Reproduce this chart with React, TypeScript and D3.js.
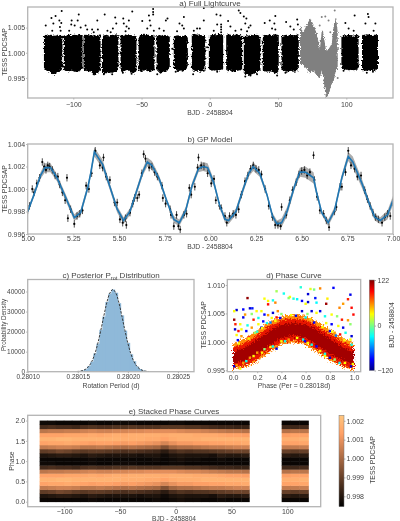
import React, { useEffect, useRef } from "react";
import * as d3 from "d3";

const FONT = "'Liberation Sans', Arial, sans-serif";
const TXT = "#444";
const SPINE = "#b4b4b4";

// ---- a) Full lightcurve: dense observing sectors as envelopes (units of 1e-4 around 1)
const sectorSpans = [[-121.5,-107.9],[-106.9,-93.2],[-92.5,-80],[-79,-66.9],[-65.4,-53.7],[-52.2,-40.5],[-39,-29.3],[-26.4,-16.1],[-13.2,-3.2],[-0.7,9.8],[12,23.7],[24.9,37.1],[38.8,50.5],[52.5,65.2],[96.4,109],[111.5,123.2]];
const sectorHi = [[33,37,35,36,34,36,35,33],[35,34,37,35,36,35,36,34],[35,36,35,37,35,34,36,33],[33,35,36,34,36,35,37,34],[35,36,34,37,36,35,34,33],[33,35,36,35,37,34,36,33],[34,36,35,34,36,35,33,32],[32,34,35,34,33,35,34,30],[36,38,37,36,37,35,36,33],[33,35,36,35,37,38,36,33],[35,37,36,35,36,37,35,33],[33,35,34,36,35,36,35,33],[34,36,35,36,35,37,36,34],[33,35,36,34,36,35,36,34],[33,35,34,36,35,34,36,33],[35,36,37,36,35,36,36,34]];
const sectorLo = [[-30,-36,-38,-42,-44,-40,-38,-32],[-34,-38,-37,-36,-38,-38,-36,-32],[-34,-36,-37,-38,-42,-44,-40,-33],[-38,-42,-40,-38,-41,-39,-36,-34],[-36,-40,-36,-34,-38,-40,-42,-36],[-34,-38,-36,-35,-37,-36,-38,-33],[-34,-38,-42,-40,-38,-36,-34,-30],[-30,-34,-37,-36,-35,-36,-34,-28],[-32,-35,-37,-36,-38,-37,-36,-34],[-33,-34,-36,-35,-36,-35,-34,-32],[-34,-37,-36,-38,-37,-36,-35,-33],[-38,-44,-46,-44,-42,-40,-38,-34],[-35,-38,-37,-38,-37,-40,-42,-36],[-34,-36,-38,-37,-36,-38,-37,-33],[-30,-33,-34,-35,-34,-35,-34,-30],[-34,-38,-36,-35,-37,-36,-35,-32]];
const grayT = [66.1,68.3,71,73.4,75.6,78.3,80.7,82,82.9,85.1,86.6,89.3,91,92.4,93.7];
const grayHi = [54,41,54,68,58,38,8,44,44,5,5,18,58,71,41];
const grayLo = [-22,-25,-32,-42,-35,-45,-52,-35,-45,-91,-85,-62,-52,-35,-32];
const blackOutliers = [[-120.2,54],[-116,69],[-114.6,58],[-115.4,44],[-113,73],[-108.5,83],[-110.2,64],[-108.8,59],[-109.8,51],[-109.3,44],[-101.2,64],[-101.5,56],[-99,54],[-103,44],[-96,76],[-96.8,64],[-94.6,50],[-91,54],[-89.8,46],[-86.2,46],[-82.4,64],[-82,46],[-85,41],[-77,76],[-75,44],[-69.3,70],[-68.5,58],[-71,48],[-72.6,41],[-63.4,68],[-63,58],[-61,52],[-59.3,64],[-56.8,82],[-59.3,48],[-61.7,43],[-49.5,63],[-44.6,74],[-44,64],[-43.4,54],[-41.5,87],[-41.5,81],[-41.5,76],[-45.8,48],[-41,44],[-37,48],[-32.2,64],[-31,68],[-33.7,44],[-22.2,58],[-20.2,54],[-19,71],[-19,48],[-24,43],[-11.7,44],[-9.3,48],[-4.4,64],[-4.4,89],[-7.3,48],[4.9,76],[7.8,74],[5.4,56],[8.3,56],[8.3,51],[8.3,46],[8.3,41],[2.9,44],[13.4,63],[15.1,52],[18.8,44],[21.2,84],[22.4,79],[23,46],[24.9,72],[26.8,68],[26,58],[28.5,50],[29.8,54],[27.3,43],[40.2,59],[43.9,64],[48,73],[47.3,58],[48,46],[45.6,48],[55.9,61],[59,52],[64,66],[64.5,56],[61.5,46],[99.3,59],[106.1,74],[101.7,48],[105.4,44],[114,58],[116.3,71],[115.8,77],[121.3,58],[120,44],[-85,-43],[-77.6,-43],[-71.5,-43],[-63.7,-40],[-57.3,-42],[-38.5,-43],[-25,-38],[-20,-36],[-12.2,-43],[-4.4,-36],[5.4,-38],[26,-47],[29.8,-45],[34.6,-43],[49.3,-45],[55.4,-40],[98,-36],[115,-40],[119.5,-38],[-27.5,8],[-2,11]];
const grayOutliers = [[82,71],[84.6,72],[87,64],[91.5,84],[93.7,-50],[80.5,54],[88.3,41]];
const aXTicks = [-100,-50,0,50,100];
const aYTicks = [0.995,1.0,1.005];

// ---- b) GP model
const gpT = [5,5.03,5.07,5.095,5.125,5.16,5.19,5.204,5.255,5.29,5.33,5.345,5.365,5.41,5.45,5.49,5.525,5.56,5.6,5.63,5.655,5.68,5.72,5.76,5.8,5.83,5.865,5.9,5.935,5.96,5.985,6.02,6.05,6.08,6.1,6.14,6.18,6.21,6.235,6.27,6.31,6.34,6.365,6.39,6.42,6.46,6.49,6.52,6.565,6.58,6.61,6.645,6.68,6.72,6.755,6.78,6.83,6.87,6.9,6.93,6.97,7];
const gpV = [.9980,.9993,1.0012,1.0019,1.0019,1.0010,.9999,.9994,.99745,.9979,1.0002,1.0014,1.0033,1.0022,1.0002,.9982,.9972,.9980,1.0000,1.0015,1.0024,1.0021,1.0009,.9990,.9973,.9970,.9981,1.0003,1.0018,1.0020,1.0019,1.0005,.9986,.9973,.9972,.9980,1.0000,1.0014,1.0020,1.0014,.9995,.9976,.9969,.9970,.9980,1.0002,1.0015,1.0015,1.0010,.9998,.9979,.9970,.9981,1.0010,1.0029,1.0024,1.0005,.9987,.9975,.9972,.9977,.9990];
const gpSpread = [.0002,.0002,.0003,.0004,.0004,.0003,.0003,.0003,.0003,.0003,.0003,.0003,.0004,.0004,.0003,.0003,.0003,.0003,.0003,.0003,.0004,.0004,.0003,.0002,.0003,.0003,.0003,.0003,.0003,.0004,.0004,.0003,.0002,.0003,.0003,.0003,.0003,.0003,.0004,.0003,.0002,.0003,.0003,.0004,.0004,.0003,.0004,.0005,.0005,.0003,.0002,.0003,.0003,.0003,.0004,.0005,.0004,.0003,.0003,.0003,.0004,.0004];
const obsT = [5,5.01,5.025,5.035,5.05,5.065,5.08,5.09,5.1,5.11,5.12,5.135,5.15,5.165,5.175,5.19,5.205,5.215,5.22,5.235,5.255,5.27,5.285,5.3,5.32,5.335,5.35,5.37,5.395,5.41,5.415,5.43,5.45,5.475,5.49,5.505,5.52,5.535,5.54,5.56,5.575,5.585,5.6,5.61,5.625,5.635,5.645,5.665,5.68,5.695,5.71,5.735,5.74,5.755,5.78,5.785,5.8,5.815,5.825,5.835,5.855,5.87,5.885,5.895,5.915,5.93,5.935,5.95,5.965,5.985,6.005,6.02,6.03,6.05,6.06,6.08,6.09,6.105,6.125,6.14,6.155,6.17,6.19,6.205,6.22,6.235,6.25,6.265,6.28,6.3,6.32,6.34,6.355,6.37,6.385,6.39,6.415,6.435,6.45,6.47,6.485,6.5,6.515,6.53,6.545,6.565,6.57,6.585,6.6,6.62,6.635,6.65,6.68,6.69,6.71,6.72,6.74,6.755,6.77,6.79,6.805,6.825,6.845,6.86,6.875,6.89,6.905,6.92,6.94,6.955,6.97,6.985,7];
const obsV = [.9981,.9985,1.0,.9997,1.0005,1.001,1.0024,1.002,1.0017,1.0021,1.002,1.0017,1.0012,1.0011,1.0004,.9997,.999,1.001,.9974,.9982,.9969,.9976,.9978,.9981,1.0003,1.0,1.0014,1.0034,1.0021,1.0019,1.0028,1.0011,1.0008,.9988,.9988,.9973,.997,.9974,.9968,.9979,.9987,.9992,.9992,.9995,1.0014,1.0031,1.0027,1.0019,1.002,1.0015,1.0011,1.0003,.9992,.9987,.9982,.9977,.9967,.9977,.9967,.9964,.9977,.9978,1.0001,.9995,1.0002,1.0019,1.0028,1.0021,1.002,1.0014,1.0005,1.0009,.999,.9985,.9983,.9976,.997,.9976,.9978,.9977,.9982,.9995,1.0007,1.0012,1.0018,1.0021,1.0018,1.0017,1.0013,1.0,.9985,.9975,.9968,.9968,.9967,.9984,.9977,.999,.9999,1.0006,1.0013,1.0016,1.0017,1.0012,1.0015,1.003,1.0008,.9993,.9981,.9978,.9972,.9966,.998,.9984,1.0002,1.0002,1.0015,1.0034,1.0021,1.0018,1.0011,1.0012,.9999,.9991,.9985,.9979,.9975,.9973,.997,.9975,.9978,.9976,.9988];
const obsErr = 0.00033;
const bXTicks = [5,5.25,5.5,5.75,6,6.25,6.5,6.75,7];
const bYTicks = [.996,.998,1,1.002,1.004];

// ---- c) Posterior
const histOffsets = [-36,-33,-30,-27,-24,-21,-18,-15,-12,-9,-6,-3,0,3,6,9,12,15,18,21,24,27,30,33,36];
const histValues = [120,260,620,1250,2800,5000,9100,14000,20900,27500,34800,39000,41000,39400,34200,28100,20500,14400,8700,5200,2600,1350,560,260,100];
const pdfValues = [90,240,590,1300,2700,5100,8900,14200,20700,27800,34500,39200,41000,39200,34500,27800,20700,14200,8900,5100,2700,1300,590,240,90];
const cXTicks = [.2801,.28015,.2802,.28025];
const cYTicks = [0,10000,20000,30000,40000];

// ---- d) Phase curve
const coreP = [0,.1,.2,.3,.4,.5,.6,.7,.8,.9,1];
const fringeHi = [.9997,1.0006,1.0020,1.0035,1.0045,1.0048,1.0046,1.0035,1.0021,1.0007,.9997];
const fringeLo = [.9952,.9955,.9966,.9981,.9995,.9999,.9995,.9981,.9967,.9956,.9950];
const outerHi = [.9990,.9998,1.0012,1.0028,1.0038,1.0041,1.0039,1.0028,1.0014,1.0000,.9990];
const outerLo = [.9955,.9958,.9970,.9985,.9999,1.0003,.9999,.9985,.9971,.9959,.9953];
const innerHi = [.9982,.9990,1.0004,1.0019,1.0030,1.0033,1.0031,1.0020,1.0006,.9992,.9982];
const innerLo = [.9962,.9966,.9978,.9993,1.0007,1.0011,1.0007,.9993,.9979,.9967,.9961];
const phasePts = [[.56,1.0096,-20],[.83,1.0095,-90],[.72,1.0094,60],[.64,1.0093,25],[.67,1.0092,0],[.36,1.0089,10],[.12,1.0077,118],[.42,1.0085,-25],[.47,1.0079,30],[.97,1.0083,-95],[.62,1.0084,-100],[.68,1.0077,-85],[.78,1.0076,35],[.26,1.0076,30],[.29,1.0072,32],[.33,1.0073,-25],[.29,1.0066,90],[.35,1.0069,60],[.46,1.0077,5],[.5,1.0076,-20],[.53,1.0075,-30],[.57,1.0072,-90],[.6,1.0067,30],[.62,1.007,-100],[.69,1.0069,-30],[.77,1.0067,115],[.91,1.0067,55],[.95,1.0075,85],[.98,1.006,90],[.88,1.006,60],[.01,1.0039,115],[.03,1.0056,-100],[.01,1.0054,30],[.085,1.0057,-90],[.14,1.0059,-100],[.16,1.0059,-85],[.195,1.0054,32],[.235,1.0054,30],[.1,1.0048,55],[.085,1.0043,-95],[.155,1.0049,5],[.02,1.0031,85],[.06,1.0031,30],[.017,1.0022,-100],[.045,1.0019,90],[.07,1.0022,30],[.12,1.0029,-25],[.17,1.0039,85],[.21,1.0042,-25],[.26,1.0048,-90],[.29,1.0047,55],[.33,1.0051,-100],[.37,1.0054,60],[.4,1.0049,5],[.65,1.0054,-100],[.69,1.0051,30],[.72,1.0054,-95],[.76,1.0045,-25],[.815,1.0048,30],[.86,1.0045,5],[.9,1.0039,85],[.95,1.0038,55],[.995,1.0048,90],[.97,1.0031,5],[.91,1.0025,-95],[.87,1.0028,30],[.815,1.0031,-90],[.77,1.0033,30],[.93,1.0016,-25],[.98,1.001,-100],[.885,1.0013,90],[.84,1.0016,55],[.8,1.0019,-90],[.07,1.001,55],[.03,1.0012,32],[.11,1.0019,-90],[.155,1.0025,55],[.21,1.0031,30],[.25,1.0036,-90],[.13,1.0008,85],[.18,1.0016,5],[.235,1.0025,-100],[.28,1.0033,-25],[.32,1.0042,30],[.36,1.0043,90],[.57,1.0054,-100],[.615,1.0049,5],[.01,.9957,-100],[.06,.9953,30],[.03,.9959,55],[.11,.9966,-25],[.17,.9975,30],[.2,.9981,55],[.26,.9987,5],[.31,.9991,30],[.36,.9988,-95],[.4,1.0001,30],[.46,1.0004,55],[.53,1.0007,30],[.58,1.0004,-25],[.62,.9998,30],[.65,.9995,-25],[.69,.9992,-90],[.72,.9984,30],[.76,.9979,-25],[.8,.9972,-100],[.84,.9969,5],[.88,.9963,-25],[.925,.9963,30],[.975,.9957,-100],[.99,.9961,30],[.76,.9975,30],[.43,1.0001,-25],[.33,.9992,-25],[.24,.9981,30],[.14,.9972,55],[.085,.9963,55],[.595,1.0001,-90],
[.02,.9995,55],[.05,.9997,30],[.09,1.0003,60],[.13,1.0006,30],[.16,1.0012,60],[.2,1.0018,-20],[.24,1.0024,30],[.27,1.0029,60],[.31,1.0034,-60],[.35,1.0037,30],[.39,1.0042,-90],[.44,1.0045,55],[.48,1.0047,30],[.52,1.0046,-95],[.55,1.0044,70],[.6,1.0043,-30],[.64,1.0040,40],[.67,1.0034,-90],[.71,1.0031,55],[.74,1.0026,30],[.78,1.0021,55],[.82,1.0018,30],[.85,1.0011,-60],[.89,1.0006,60],[.92,1.0003,30],[.95,.9999,55],[.98,.9995,-25],[.04,1.0003,-90],[.97,1.0004,30]];
const dXTicks = [0,.2,.4,.6,.8,1];
const dYTicks = [.995,1,1.005,1.01];
const jetStops = ["#00007f","#0000ff","#007fff","#00ffff","#7fff7f","#ffff00","#ff7f00","#ff0000","#7f0000"];

// ---- e) Stacked phase curves: rows are phase bins, units of 1e-4 around 1
const columnStarts = [-122,-114.8,-107.5,-100.3,-93.1,-85.8,-78.6,-71.4,-64.2,-56.9,-49.7,-42.5,-35.2,-28,-20.8,-13.5,-6.3,0.9,8.2,15.4,22.6,29.8,37.1,44.3,51.5,58.8,95,103,111];
const columnWidths = [7.2,7.3,7.2,7.2,7.3,7.2,7.2,7.2,7.3,7.2,7.2,7.3,7.2,7.2,7.3,7.2,7.2,7.3,7.2,7.2,7.2,7.3,7.2,7.2,7.3,7.2,8,8,8];
const stackRows = [
[-24,-21,-11,4,14,18,14,3,-15,-23],[-24,-20,-10,5,15,18,14,4,-14,-23],[-24,-19,-8,6,15,19,14,4,-15,-24],[-24,-19,-9,6,16,19,15,5,-15,-24],[-24,-20,-11,5,15,18,15,5,-16,-24],
[-24,-21,-12,3,14,18,15,6,-14,-24],[-23,-19,-11,3,13,18,16,7,-13,-23],[-24,-20,-11,4,14,18,15,6,-14,-24],[-24,-21,-12,3,14,18,16,6,-14,-24],[-24,-21,-13,2,13,18,17,7,-13,-23],
[-24,-21,-14,1,12,17,16,7,-13,-23],[-24,-21,-13,2,13,17,17,8,-12,-23],[-24,-22,-14,1,12,17,17,8,-13,-24],[-24,-21,-15,0,11,16,17,9,-13,-24],[-23,-21,-16,-1,10,16,17,9,-13,-24],
[-24,-23,-19,-6,7,14,16,9,-12,-24],[-23,-21,-15,-1,10,16,17,9,-12,-23],[-22,-20,-13,1,12,17,17,8,-12,-23],[-23,-21,-14,1,12,17,17,7,-13,-24],[-23,-21,-13,2,13,17,16,7,-13,-24],
[-24,-21,-13,3,13,18,16,6,-14,-24],[-24,-22,-12,4,14,18,16,5,-15,-24],[-23,-19,-11,4,14,18,15,4,-16,-24],[-24,-20,-10,5,15,18,14,3,-16,-24],[-24,-20,-9,6,15,18,14,3,-17,-24],[-24,-19,-9,6,16,18,13,2,-17,-24],
[-24,-19,-10,4,14,17,13,2,-16,-24],[-24,-20,-11,4,14,17,14,3,-16,-24],[-24,-19,-10,5,15,18,14,3,-15,-24]];
const ePhaseCycles = [0,1];
const eXTicks = [-100,-50,0,50,100];
const eYTicks = [0,.5,1,1.5,2];
const eBarTicks = [.998,.999,1,1.001,1.002];
const copperStops = ["#000000","#ffa066","#ffc77f"];

type G = d3.Selection<SVGGElement, unknown, null, undefined>;

function roughFilter(svg: any, id: string, freq: number, scale: number, seed: number) {
  const f = svg.append("filter").attr("id", id).attr("x", "-5%").attr("y", "-15%").attr("width", "110%").attr("height", "130%");
  f.append("feTurbulence").attr("type", "fractalNoise").attr("baseFrequency", freq).attr("numOctaves", 2).attr("seed", seed).attr("result", "n");
  f.append("feDisplacementMap").attr("in", "SourceGraphic").attr("in2", "n").attr("scale", scale).attr("xChannelSelector", "R").attr("yChannelSelector", "G");
}

function styleAxis(a: any, size: number) {
  a.select(".domain").remove();
  a.selectAll("line").attr("stroke", "#888").attr("stroke-width", 0.7);
  a.selectAll("text").attr("fill", TXT).attr("font-size", size).attr("font-family", FONT);
}

function axes(g: G, x: any, y: any, xT: number[], yT: number[], fx: any, fy: any, pad = 1, size = 7, xSize = 7) {
  const bottom = y.range()[0];
  const left = x.range()[0];
  const ax = g.append("g").attr("transform", `translate(0,${bottom})`)
    .call(d3.axisBottom(x).tickValues(xT).tickFormat(fx).tickSize(1.5).tickPadding(pad));
  styleAxis(ax, xSize);
  const ay = g.append("g").attr("transform", `translate(${left},0)`)
    .call(d3.axisLeft(y).tickValues(yT).tickFormat(fy).tickSize(1.5).tickPadding(1));
  styleAxis(ay, size);
}

function frame(g: G, x: any, y: any) {
  const [x0, x1] = x.range();
  const [y0, y1] = y.range();
  g.append("rect").attr("x", x0).attr("y", y1).attr("width", x1 - x0).attr("height", y0 - y1)
    .attr("fill", "none").attr("stroke", SPINE).attr("stroke-width", 1.3);
}

function text(g: G, s: string, x: number, y: number, size = 8, rotate = false) {
  const t = g.append("text").attr("text-anchor", "middle").attr("fill", TXT)
    .attr("font-size", size).attr("font-family", FONT).text(s);
  if (rotate) t.attr("transform", `translate(${x},${y}) rotate(-90)`);
  else t.attr("x", x).attr("y", y);
  return t;
}

function clip(svg: any, id: string, x: any, y: any) {
  const [x0, x1] = x.range();
  const [y0, y1] = y.range();
  svg.append("clipPath").attr("id", id).append("rect")
    .attr("x", x0).attr("y", y1).attr("width", x1 - x0).attr("height", y0 - y1);
}

function panelA(svg: any) {
  const g: G = svg.append("g");
  const x = d3.scaleLinear().domain([-133.4, 134.2]).range([27.7, 393]);
  const y = d3.scaleLinear().domain([0.991, 1.0091]).range([98, 7]);
  clip(svg, "ca", x, y);
  roughFilter(svg, "roughA", 0.55, 4, 3);
  const body = g.append("g").attr("clip-path", "url(#ca)");
  const dense = body.append("g").attr("filter", "url(#roughA)");
  const off = (u: number) => y(1 + u * 1e-4);
  const area = d3.area<[number, number, number]>().x((d) => x(d[0])).y0((d) => off(d[2])).y1((d) => off(d[1]));
  sectorSpans.forEach((span, i) => {
    const t = d3.scaleLinear().domain([0, sectorHi[i].length - 1]).range(span);
    const rows = sectorHi[i].map((h, k) => [t(k), h, sectorLo[i][k]] as [number, number, number]);
    dense.append("path").attr("d", area(rows)).attr("fill", "#000");
  });
  const grayRows = grayT.map((t, k) => [t, grayHi[k], grayLo[k]] as [number, number, number]);
  dense.append("path").attr("d", area(grayRows)).attr("fill", "#808080");
  body.selectAll(".bo").data(blackOutliers).join("circle").attr("cx", (d) => x(d[0])).attr("cy", (d) => off(d[1])).attr("r", 1).attr("fill", "#000");
  body.selectAll(".go").data(grayOutliers).join("circle").attr("cx", (d) => x(d[0])).attr("cy", (d) => off(d[1])).attr("r", 1).attr("fill", "#808080");
  axes(g, x, y, aXTicks, aYTicks, d3.format("d"), d3.format(".3f"), 2.5);
  frame(g, x, y);
  text(g, "a) Full Lightcurve", 210, 6.3, 8);
  text(g, "BJD - 2458804", 210, 115, 6.8);
  text(g, "TESS PDCSAP", 7, 52, 6.8, true);
}

function panelB(svg: any) {
  const g: G = svg.append("g");
  const x = d3.scaleLinear().domain([5, 7]).range([27.7, 393]);
  const y = d3.scaleLinear().domain([0.996, 1.004]).range([234, 144]);
  clip(svg, "cb", x, y);
  const body = g.append("g").attr("clip-path", "url(#cb)");
  const rows = gpT.map((t, i) => ({ t, v: gpV[i], s: gpSpread[i] }));
  body.append("path").attr("fill", "#adadad")
    .attr("d", d3.area<any>().x((d) => x(d.t)).y0((d) => y(d.v - d.s)).y1((d) => y(d.v + d.s))(rows));
  const pts = obsT.map((t, i) => ({ t, v: obsV[i] }));
  body.selectAll(".e").data(pts).join("line").attr("x1", (d) => x(d.t)).attr("x2", (d) => x(d.t))
    .attr("y1", (d) => y(d.v - obsErr)).attr("y2", (d) => y(d.v + obsErr)).attr("stroke", "#222").attr("stroke-width", 0.8);
  body.selectAll(".p").data(pts).join("circle").attr("cx", (d) => x(d.t)).attr("cy", (d) => y(d.v)).attr("r", 1.1).attr("fill", "#000");
  body.append("path").attr("fill", "none").attr("stroke", "#1f77b4").attr("stroke-width", 1.6)
    .attr("d", d3.line<any>().x((d) => x(d.t)).y((d) => y(d.v))(rows));
  axes(g, x, y, bXTicks, bYTicks, d3.format(".2f"), d3.format(".3f"));
  frame(g, x, y);
  text(g, "b) GP Model", 210, 141.5, 8);
  text(g, "BJD - 2458804", 210, 249, 6.8);
  text(g, "TESS PDCSAP", 7, 189, 6.8, true);
}

function panelC(svg: any) {
  const g: G = svg.append("g");
  const x = d3.scaleLinear().domain([0.2801, 0.280266]).range([27.7, 194]);
  const y = d3.scaleLinear().domain([0, 46000]).range([371.7, 279.5]);
  const center = 0.280185;
  const at = (d: number) => center + d * 1e-6;
  g.selectAll(".h").data(histOffsets).join("rect")
    .attr("x", (d) => x(at(d - 1.5))).attr("width", (d) => x(at(d + 1.5)) - x(at(d - 1.5)) + 0.8)
    .attr("y", (_, i) => y(histValues[i])).attr("height", (_, i) => y(0) - y(histValues[i]))
    .attr("fill", "#8fb9d9");
  g.append("path").attr("fill", "none").attr("stroke", "#2a2a2a").attr("stroke-width", 0.9).attr("stroke-dasharray", "2.5 1.2")
    .attr("d", d3.line<number>().x((d) => x(at(d))).y((_, i) => y(pdfValues[i])).curve(d3.curveCatmullRom)(histOffsets));
  axes(g, x, y, cXTicks, cYTicks, d3.format(".5f"), d3.format("d"), 1.5, 6.5, 6.5);
  frame(g, x, y);
  const t = text(g, "c) Posterior P", 111, 278, 8);
  t.append("tspan").attr("dy", 1.8).attr("font-size", 5.6).text("rot");
  t.append("tspan").attr("dy", -1.8).text(" Distribution");
  text(g, "Rotation Period (d)", 111, 387.5, 6.8);
  text(g, "Probability Density", 5.5, 325, 6.3, true);
}

function panelD(svg: any) {
  const g: G = svg.append("g");
  const x = d3.scaleLinear().domain([-0.047, 1.055]).range([227.3, 360.7]);
  const y = d3.scaleLinear().domain([0.99475, 1.01097]).range([371.7, 279.5]);
  clip(svg, "cd", x, y);
  roughFilter(svg, "roughD", 0.7, 8, 7);
  const body = g.append("g").attr("clip-path", "url(#cd)");
  const color = d3.scaleLinear<string>()
    .domain(jetStops.map((_, i) => -120 + (i * 242) / (jetStops.length - 1))).range(jetStops);
  const core = body.append("g").attr("filter", "url(#roughD)");
  const band = (hi: number[], lo: number[], fill: string) =>
    core.append("path").attr("fill", fill)
      .attr("d", d3.area<number>().x((d) => x(d)).y0((_, i) => y(lo[i])).y1((_, i) => y(hi[i]))(coreP));
  band(fringeHi, fringeLo, "#ff8a10");
  band(outerHi, outerLo, "#e81400");
  band(innerHi, innerLo, "#a30600");
  body.selectAll(".d").data(phasePts).join("rect")
    .attr("x", (d) => x(d[0]) - 1.2).attr("y", (d) => y(d[1]) - 1.2).attr("width", 2.4).attr("height", 2.4)
    .attr("fill", (d) => color(d[2]));
  axes(g, x, y, dXTicks, dYTicks, d3.format(".1f"), d3.format(".3f"), 1.5);
  frame(g, x, y);
  text(g, "d) Phase Curve", 294, 278, 8);
  text(g, "Phase (Per = 0.28018d)", 294, 387.5, 6.8);
  text(g, "TESS PDCSAP", 206, 325, 6.8, true);

  const grad = svg.append("linearGradient").attr("id", "jetGrad").attr("x1", 0).attr("x2", 0).attr("y1", 1).attr("y2", 0);
  jetStops.forEach((c, i) => grad.append("stop").attr("offset", i / (jetStops.length - 1)).attr("stop-color", c));
  const cb = d3.scaleLinear().domain([-120, 122]).range([370.5, 280]);
  g.append("rect").attr("x", 369.3).attr("y", 280).attr("width", 5).attr("height", 90.5).attr("fill", "url(#jetGrad)").attr("stroke", "#777").attr("stroke-width", 0.5);
  const a = g.append("g").attr("transform", "translate(374.5,0)")
    .call(d3.axisRight(cb).tickValues([-120, 0, 122]).tickSize(1.5).tickPadding(1.5));
  styleAxis(a, 7);
  text(g, "BJD - 2458804", 394, 325, 6.8, true);
}

function panelE(svg: any) {
  const g: G = svg.append("g");
  const x = d3.scaleLinear().domain([-132.7, 130]).range([27.7, 320.7]);
  const y = d3.scaleLinear().domain([-0.123, 2.13]).range([506.7, 415.3]);
  const cmap = d3.scaleLinear<string>().domain([0.99745, 1.00133, 1.00229]).range(copperStops).clamp(true);
  const rowH = 1 / stackRows[0].length;
  columnStarts.forEach((start, c) => {
    ePhaseCycles.forEach((cycle) => {
      stackRows[c].forEach((u, r) => {
        const p0 = cycle + r * rowH;
        g.append("rect").attr("x", x(start)).attr("width", x(start + columnWidths[c]) - x(start) + 0.4)
          .attr("y", y(p0 + rowH)).attr("height", y(p0) - y(p0 + rowH) + 0.4)
          .attr("fill", cmap(1 + u * 1e-4));
      });
    });
  });
  axes(g, x, y, eXTicks, eYTicks, d3.format("d"), d3.format(".1f"), 1);
  frame(g, x, y);
  text(g, "e) Stacked Phase Curves", 174, 414, 8);
  text(g, "BJD - 2458804", 174, 520.5, 6.6);
  text(g, "Phase", 13.5, 461, 6.8, true);

  const grad = svg.append("linearGradient").attr("id", "cuGrad").attr("x1", 0).attr("x2", 0).attr("y1", 1).attr("y2", 0);
  copperStops.forEach((c, i) => grad.append("stop").attr("offset", [0, 0.8, 1][i]).attr("stop-color", c));
  const cb = d3.scaleLinear().domain([0.99745, 1.00229]).range([506.7, 415.3]);
  g.append("rect").attr("x", 339).attr("y", 415.3).attr("width", 5).attr("height", 91.4).attr("fill", "url(#cuGrad)").attr("stroke", "#777").attr("stroke-width", 0.5);
  const a = g.append("g").attr("transform", "translate(344,0)")
    .call(d3.axisRight(cb).tickValues(eBarTicks).tickFormat(d3.format(".3f") as any).tickSize(1.5).tickPadding(1));
  styleAxis(a, 7);
  text(g, "TESS PDCSAP", 375, 460, 6.8, true);
}

export default function App() {
  const ref = useRef<SVGSVGElement>(null);
  useEffect(() => {
    const svg = d3.select(ref.current);
    svg.selectAll("*").remove();
    panelA(svg);
    panelB(svg);
    panelC(svg);
    panelD(svg);
    panelE(svg);
  }, []);
  return <svg ref={ref} width={400} height={521} style={{ position: "absolute", left: 0, top: 0, background: "#fff", filter: "blur(0.3px)" }} />;
}
